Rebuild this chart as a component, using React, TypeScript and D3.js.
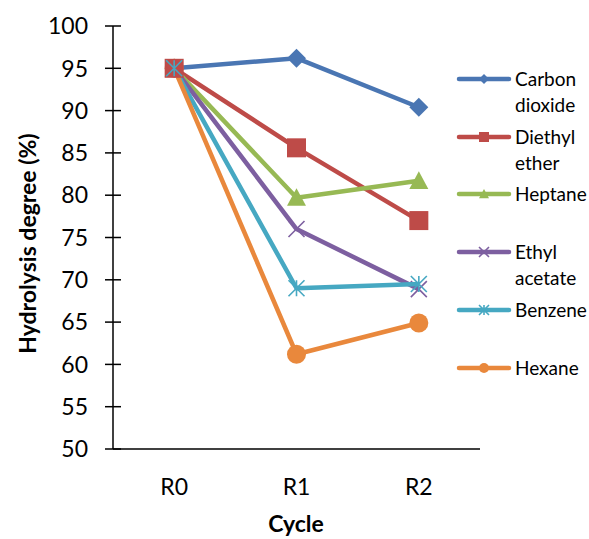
import React from 'react';
import * as d3 from 'd3';

const cycles = ['R0', 'R1', 'R2'];
const seriesNames = ['Carbon dioxide', 'Diethyl ether', 'Heptane', 'Ethyl acetate', 'Benzene', 'Hexane'];
const legendLines = [['Carbon', 'dioxide'], ['Diethyl', 'ether'], ['Heptane'], ['Ethyl', 'acetate'], ['Benzene'], ['Hexane']];
const carbonDioxide = [95.0, 96.2, 90.4];
const diethylEther = [95.0, 85.6, 77.0];
const heptane = [95.0, 79.7, 81.7];
const ethylAcetate = [95.0, 76.0, 68.9];
const benzene = [95.0, 69.0, 69.5];
const hexane = [95.0, 61.2, 64.9];
const yTicks = [50, 55, 60, 65, 70, 75, 80, 85, 90, 95, 100];

const seriesValues = [carbonDioxide, diethylEther, heptane, ethylAcetate, benzene, hexane];
const colors = ['#4A76B3', '#BE4B48', '#97B954', '#7D5FA0', '#46A8C2', '#E9883C'];
const markers = ['diamond', 'square', 'triangle', 'x', 'star', 'circle'];
const legendY = [79, 137, 194, 252, 310, 368];
// stacking of the overlapping markers at R0 (bottom to top)
const r0Order = [5, 0, 3, 2, 1, 4];

const FONT = 'Lato, "Open Sans", sans-serif';

const margin = { top: 26, left: 113, right: 109, bottom: 90 };
const W = 589;
const H = 539;

function Marker({ type, cx, cy, s, color }: { type: string; cx: number; cy: number; s: number; color: string }) {
  const h = s / 2;
  if (type === 'diamond') {
    return <path d={`M${cx},${cy - h}L${cx + h},${cy}L${cx},${cy + h}L${cx - h},${cy}Z`} fill={color} />;
  }
  if (type === 'square') {
    return <rect x={cx - h} y={cy - h} width={s} height={s} fill={color} />;
  }
  if (type === 'triangle') {
    return <path d={`M${cx},${cy - h}L${cx + h},${cy + h * 0.85}L${cx - h},${cy + h * 0.85}Z`} fill={color} />;
  }
  if (type === 'circle') {
    return <circle cx={cx} cy={cy} r={h} fill={color} />;
  }
  if (type === 'x') {
    return (
      <path d={`M${cx - h},${cy - h}L${cx + h},${cy + h}M${cx - h},${cy + h}L${cx + h},${cy - h}`} stroke={color} strokeWidth={1.6} fill="none" />
    );
  }
  // star (asterisk)
  return (
    <path
      d={`M${cx - h},${cy - h}L${cx + h},${cy + h}M${cx - h},${cy + h}L${cx + h},${cy - h}M${cx},${cy - h}L${cx},${cy + h}`}
      stroke={color}
      strokeWidth={1.6}
      fill="none"
    />
  );
}

export default function App() {
  const x = d3.scaleBand<string>().domain(cycles).range([margin.left, W - margin.right]);
  const y = d3.scaleLinear().domain([50, 100]).range([H - margin.bottom, margin.top]);
  const cx = (i: number) => (x(cycles[i]) as number) + x.bandwidth() / 2;
  const line = d3
    .line<number>()
    .x((_d, i) => cx(i))
    .y((d) => y(d));
  const size = (si: number) => (markers[si] === 'x' || markers[si] === 'star' ? 16 : 19);

  const x0 = margin.left;
  const y0 = y(50);

  return (
    <svg width={W} height={H} style={{ position: 'absolute', left: 0, top: 0, background: '#fff' }} fontFamily={FONT}>
      {/* axes */}
      <line x1={x0} x2={x0} y1={y(100)} y2={y0} stroke="#000" strokeWidth={1.5} />
      <line x1={x0} x2={W - margin.right} y1={y0} y2={y0} stroke="#000" strokeWidth={1.5} />
      {yTicks.map((t) => (
        <g key={t}>
          <line x1={x0 - 8} x2={x0 + 8} y1={y(t)} y2={y(t)} stroke="#000" strokeWidth={1.5} />
          <text x={x0 - 25} y={y(t)} dy="0.36em" textAnchor="end" fontSize={23} fill="#000">
            {t}
          </text>
        </g>
      ))}
      {cycles.map((c, i) => (
        <text key={c} x={cx(i)} y={y0 + 38} dy="0.36em" textAnchor="middle" fontSize={23} fill="#000">
          {c}
        </text>
      ))}
      <text x={296} y={524} dy="0.36em" textAnchor="middle" fontSize={23} fontWeight="bold" fill="#000">
        Cycle
      </text>
      <text
        transform={`translate(28,${(y(100) + y0) / 2 + 6}) rotate(-90)`}
        textAnchor="middle"
        dy="0.36em"
        fontSize={23}
        fontWeight="bold"
        fill="#000"
      >
        Hydrolysis degree (%)
      </text>

      {/* series */}
      {seriesValues.map((vals, si) => (
        <g key={seriesNames[si]}>
          <path d={line(vals) as string} fill="none" stroke={colors[si]} strokeWidth={4.5} strokeLinejoin="round" />
          {vals.map((v, i) =>
            i === 0 ? null : <Marker key={i} type={markers[si]} cx={cx(i)} cy={y(v)} s={size(si)} color={colors[si]} />
          )}
        </g>
      ))}
      {r0Order.map((si) => (
        <Marker key={'r0' + si} type={markers[si]} cx={cx(0)} cy={y(seriesValues[si][0])} s={size(si)} color={colors[si]} />
      ))}

      {/* legend */}
      {seriesNames.map((name, si) => (
        <g key={name}>
          <line x1={459} x2={509} y1={legendY[si]} y2={legendY[si]} stroke={colors[si]} strokeWidth={4.5} strokeLinecap="round" />
          <Marker type={markers[si]} cx={484} cy={legendY[si]} s={10} color={colors[si]} />
          {legendLines[si].map((l, li) => (
            <text key={l} x={515} y={legendY[si] + li * 26} dy="0.36em" fontSize={19} fill="#000">
              {l}
            </text>
          ))}
        </g>
      ))}
    </svg>
  );
}
